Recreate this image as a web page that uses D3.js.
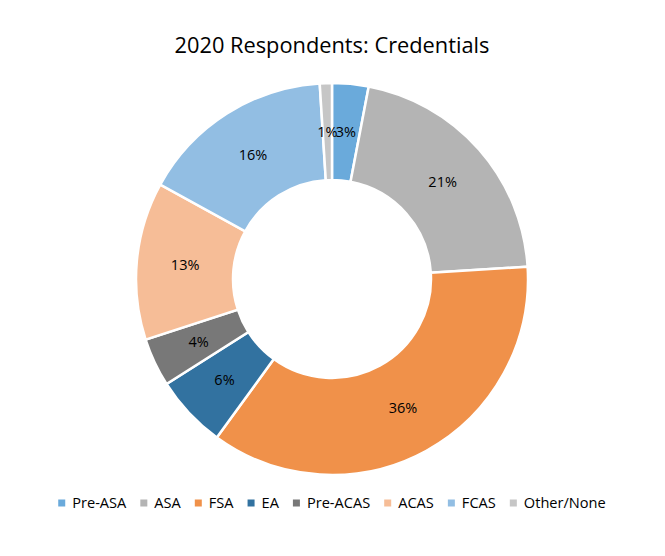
<!DOCTYPE html>
<html>
<head>
<meta charset="utf-8">
<script src="https://cdn.jsdelivr.net/npm/d3@7"></script>
<style>
  html, body { margin: 0; padding: 0; background: #fff; }
  svg { display: block; }
</style>
</head>
<body>
<svg id="chart" width="665" height="556"></svg>
<script>
const categories = ["Pre-ASA", "ASA", "FSA", "EA", "Pre-ACAS", "ACAS", "FCAS", "Other/None"];
const values = [3, 21, 36, 6, 4, 13, 16, 1];
const colors = ["#6aaadb", "#b4b4b4", "#f0914a", "#3272a0", "#787878", "#f6bd97", "#92bee3", "#c6c6c6"];
const title = "2020 Respondents: Credentials";

const font = "'Open Sans', 'DejaVu Sans', sans-serif";
const svg = d3.select("#chart");
const W = 665, H = 556;
const cx = 332, cy = 279, rOuter = 196, rInner = 99;

svg.append("text")
  .attr("x", cx).attr("y", 53)
  .attr("text-anchor", "middle")
  .attr("font-family", font)
  .attr("font-size", 21.8)
  .attr("fill", "#000")
  .text(title);

const data = categories.map((c, i) => ({ cat: c, value: values[i], color: colors[i] }));
const pie = d3.pie().value(d => d.value).sort(null);
const arcs = pie(data);
const arc = d3.arc().innerRadius(rInner).outerRadius(rOuter);
const labelArc = d3.arc().innerRadius((rInner + rOuter) / 2).outerRadius((rInner + rOuter) / 2);
const total = d3.sum(values);

const g = svg.append("g").attr("transform", `translate(${cx},${cy})`);
g.selectAll("path").data(arcs).enter().append("path")
  .attr("d", arc)
  .attr("fill", d => d.data.color)
  .attr("stroke", "#fff")
  .attr("stroke-width", 2.5);

g.selectAll("text.lbl").data(arcs).enter().append("text")
  .attr("class", "lbl")
  .attr("transform", d => `translate(${labelArc.centroid(d)})`)
  .attr("text-anchor", "middle")
  .attr("dy", "0.35em")
  .attr("font-family", font)
  .attr("font-size", 14.5)
  .attr("fill", "#000")
  .text(d => Math.round(d.data.value / total * 100) + "%");

// Legend
const legY = 503, sq = 7, gapSq = 7, gapItem = 14;
const leg = svg.append("g");
const items = leg.selectAll("g.item").data(data).enter().append("g").attr("class", "item");
items.append("rect").attr("width", sq).attr("height", sq).attr("y", -sq / 2).attr("fill", d => d.color);
items.append("text")
  .attr("x", sq + gapSq).attr("dy", "0.35em")
  .attr("font-family", font).attr("font-size", 14.6).attr("fill", "#000")
  .text(d => d.cat);
let widths = [];
items.each(function() { widths.push(d3.select(this).select("text").node().getComputedTextLength()); });
const totalW = d3.sum(widths.map(w => sq + gapSq + w)) + gapItem * (widths.length - 1);
let x = cx - totalW / 2;
items.each(function(d, i) {
  d3.select(this).attr("transform", `translate(${x},${legY})`);
  x += sq + gapSq + widths[i] + gapItem;
});
</script>
</body>
</html>
